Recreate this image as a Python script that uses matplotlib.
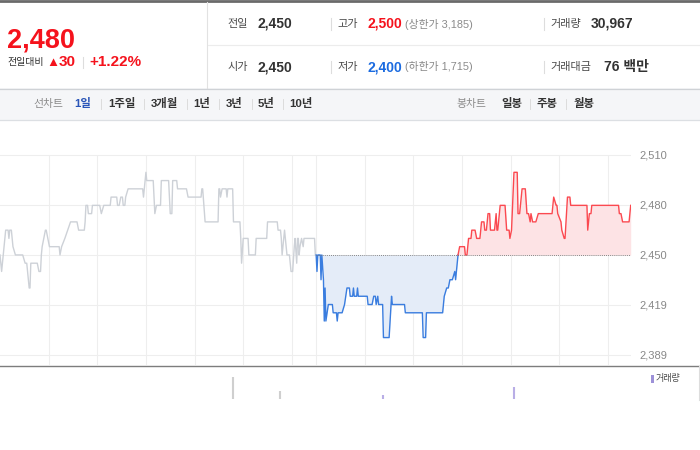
import matplotlib.pyplot as plt
from matplotlib.patches import Rectangle

plt.rcParams['font.family'] = ['Liberation Sans', 'Noto Sans CJK KR', 'DejaVu Sans']

# minutes on the chart: 0 = prev day 09:00, 390 = today 09:00, 780 = today 15:30
prev_min = [0, 2, 4, 7, 10, 11, 12, 14, 16, 19,
            28, 31, 33, 36, 37, 38, 46, 48, 50, 51,
            52, 56, 57, 61, 73, 74, 76, 80, 87, 95,
            97, 104, 105, 106, 108, 109, 113, 114, 123, 125,
            128, 136, 137, 144, 145, 147, 149, 151, 152, 154,
            155, 158, 176, 177, 180, 181, 189, 191, 193, 198,
            199, 208, 210, 212, 213, 218, 219, 230, 232, 248,
            249, 250, 253, 269, 270, 271, 272, 274, 279, 280,
            281, 287, 288, 296, 297, 298, 300, 306, 307, 315,
            316, 329, 330, 342, 343, 346, 347, 348, 351, 352,
            354, 357, 359, 361, 363, 364, 366, 367, 368, 369,
            370, 372, 374, 375, 388, 389]
prev_price = [2450, 2440, 2450, 2465, 2465, 2460, 2465, 2465, 2455, 2450,
              2450, 2445, 2445, 2430, 2430, 2445, 2445, 2440, 2440, 2450,
              2455, 2465, 2465, 2455, 2455, 2450, 2455, 2460, 2470, 2470,
              2465, 2465, 2470, 2480, 2480, 2475, 2475, 2480, 2480, 2475,
              2480, 2480, 2485, 2485, 2480, 2480, 2485, 2485, 2480, 2480,
              2485, 2490, 2490, 2485, 2500, 2495, 2495, 2475, 2480, 2480,
              2495, 2495, 2475, 2475, 2495, 2495, 2490, 2490, 2485, 2485,
              2490, 2490, 2470, 2470, 2490, 2490, 2485, 2490, 2490, 2485,
              2490, 2490, 2470, 2470, 2460, 2445, 2460, 2460, 2450, 2450,
              2460, 2460, 2470, 2470, 2465, 2465, 2460, 2450, 2465, 2460,
              2450, 2450, 2440, 2440, 2455, 2460, 2445, 2460, 2460, 2450,
              2455, 2460, 2455, 2460, 2460, 2450]

down_min = [390, 391, 392, 395, 396, 397, 399, 400, 401, 402,
            405, 410, 411, 415, 416, 417, 422, 425, 428, 431,
            432, 435, 436, 437, 440, 441, 442, 453, 454, 459,
            461, 463, 464, 466, 467, 472, 473, 480, 483, 484,
            499, 500, 521, 522, 525, 526, 546, 547, 548, 551,
            553, 555, 558, 561, 562, 565]
down_price = [2450, 2440, 2450, 2450, 2435, 2450, 2435, 2410, 2430, 2410,
              2420, 2420, 2415, 2415, 2410, 2415, 2415, 2420, 2430, 2430,
              2425, 2425, 2430, 2425, 2425, 2430, 2425, 2425, 2420, 2420,
              2425, 2425, 2420, 2425, 2420, 2420, 2400, 2400, 2425, 2420,
              2420, 2415, 2415, 2400, 2400, 2415, 2415, 2420, 2425, 2430,
              2430, 2435, 2435, 2440, 2435, 2450]

up_min = [565, 567, 573, 574, 576, 578, 581, 582, 586, 588,
          592, 594, 597, 598, 600, 602, 604, 605, 610, 612,
          613, 614, 617, 623, 625, 628, 629, 631, 634, 638,
          639, 641, 644, 648, 650, 652, 654, 655, 657, 661,
          664, 681, 682, 683, 686, 687, 688, 692, 693, 696,
          697, 700, 703, 704, 724, 725, 727, 729, 730, 763,
          764, 766, 768, 776, 778]
up_price = [2450, 2455, 2455, 2450, 2450, 2460, 2460, 2465, 2465, 2460,
            2460, 2470, 2470, 2465, 2465, 2475, 2475, 2465, 2465, 2475,
            2465, 2465, 2480, 2480, 2465, 2465, 2460, 2465, 2500, 2500,
            2475, 2475, 2490, 2490, 2475, 2475, 2470, 2475, 2470, 2470,
            2475, 2475, 2480, 2485, 2480, 2480, 2475, 2470, 2465, 2460,
            2460, 2485, 2485, 2480, 2480, 2465, 2475, 2475, 2480, 2480,
            2475, 2475, 2470, 2470, 2480]

vol_min = [288, 345, 472, 634]
vol = [5600, 2000, 1000, 3000]
vol_today = [False, False, True, True]

base = 2450
y_ticks = [2389.5, 2419.75, 2450, 2480.25, 2510.5]
y_labels = ['2,389', '2,419', '2,450', '2,480', '2,510']
hour_lines = [60, 120, 180, 240, 300, 360, 390, 450, 510, 570, 630, 690, 750]

RED = '#f5121c'
BLUE = '#1b6be0'
DARK = '#333333'
LABEL = '#4a4a4a'
GRAY = '#8a8a8a'

fig = plt.figure(figsize=(7, 4.5), dpi=100)

# pixel canvas for the header / frame
bg = fig.add_axes([0, 0, 1, 1])
bg.set_xlim(0, 700)
bg.set_ylim(450, 0)
bg.axis('off')

bg.plot([0, 700], [1, 1], color='#6a6a6a', lw=2)
bg.plot([207, 207], [2, 88], color='#e2e2e2', lw=0.8)
bg.plot([208, 700], [45, 45], color='#ececec', lw=0.8)
bg.add_patch(Rectangle((0, 88), 700, 32, fc='#f5f6f8', ec='none'))
bg.plot([0, 700], [88.5, 88.5], color='#cfd2d6', lw=0.9)
bg.plot([0, 700], [120, 120], color='#dcdfe3', lw=0.9)

# current price box
bg.text(7, 47, '2,480', fontsize=19.5, weight='bold', color=RED, va='baseline')
bg.text(7, 62, '전일대비', fontsize=7.2, color=DARK, va='center')
bg.text(46, 62.5, '▲', fontsize=9.5, color=RED, va='center')
bg.text(59, 62, '30', fontsize=11, weight='bold', color=RED, va='center')
bg.plot([83, 83], [57, 68], color='#dddddd', lw=0.8)
bg.text(89, 62, '+1.22%', fontsize=11, weight='bold', color=RED, va='center')

# quote table
for yy, lab, val in [(24, '전일', '2,450'), (67, '시가', '2,450')]:
    bg.text(227, yy, lab, fontsize=8, color=LABEL, va='center')
    bg.text(257, yy, val, fontsize=10, weight='bold', color=DARK, va='center')
for yy, lab, val, col, lim in [(24, '고가', '2,500', RED, '(상한가 3,185)'),
                               (67, '저가', '2,400', BLUE, '(하한가 1,715)')]:
    bg.plot([330.5, 330.5], [yy - 6, yy + 6], color='#dddddd', lw=0.8)
    bg.text(337, yy, lab, fontsize=8, color=LABEL, va='center')
    bg.text(367, yy, val, fontsize=10, weight='bold', color=col, va='center')
    bg.text(405, yy, lim, fontsize=7.8, color=GRAY, va='center')
for yy, lab, val, vx in [(24, '거래량', '30,967', 591), (67, '거래대금', '76 백만', 604)]:
    bg.plot([543.5, 543.5], [yy - 6, yy + 6], color='#dddddd', lw=0.8)
    bg.text(550, yy, lab, fontsize=8, color=LABEL, va='center')
    bg.text(vx, yy, val, fontsize=10, weight='bold', color=DARK, va='center')

# period / candle tabs
tab_y = 104
bg.text(33, tab_y, '선차트', fontsize=7.8, color=GRAY, va='center')
tabs = [(74, '1일'), (108, '1주일'), (151, '3개월'), (193, '1년'),
        (226, '3년'), (258, '5년'), (289, '10년')]
for i, (tx, t) in enumerate(tabs):
    bg.text(tx, tab_y, t, fontsize=8.2, weight='bold',
            color='#2a55b8' if i == 0 else DARK, va='center')
for sx in [101, 144, 187, 219, 252, 283]:
    bg.plot([sx, sx], [99, 109], color='#dcdcdc', lw=0.7)
bg.text(456, tab_y, '봉차트', fontsize=7.8, color=GRAY, va='center')
for tx, t in [(501, '일봉'), (537, '주봉'), (573, '월봉')]:
    bg.text(tx, tab_y, t, fontsize=8.2, weight='bold', color=DARK, va='center')
for sx in [529.5, 566]:
    bg.plot([sx, sx], [99, 109], color='#dcdcdc', lw=0.7)

# chart frame
bg.plot([0, 700], [365.5, 365.5], color='#7d7d7d', lw=1)
bg.plot([699, 699], [366, 400], color='#dddddd', lw=0.8)
bg.add_patch(Rectangle((651, 375), 2.5, 8, fc='#9d91d8', ec='none'))
bg.text(656, 379, '거래량', fontsize=6.5, color=LABEL, va='center')

# price chart
ax = fig.add_axes([0, 85 / 450, 630.7 / 700, 215 / 450])
ax.patch.set_visible(False)
ax.set_xlim(0, 778)
ax.set_ylim(2383.4, 2513.5)
for y in y_ticks:
    ax.axhline(y, color='#eeeeee', lw=0.8, zorder=0)
ax.vlines(hour_lines, 2383.4, y_ticks[-1], color='#eeeeee', lw=0.8, zorder=0)

ax.plot(prev_min, prev_price, color='#cdd1d7', lw=1.0)
ax.fill_between(down_min, down_price, base, color='#e4ecf8', lw=0)
ax.plot(down_min, down_price, color='#3a7ddf', lw=1.0)
ax.fill_between(up_min, up_price, base, color='#fde3e5', lw=0)
ax.plot(up_min, up_price, color='#fb4950', lw=1.0)
ax.hlines(base, 390, 778, colors='#666666', lw=0.6, linestyles=(0, (1, 1.5)))

ax.yaxis.tick_right()
ax.set_yticks(y_ticks, y_labels)
ax.tick_params(axis='y', length=0, pad=6, labelsize=8, labelcolor='#888888')
ax.set_xticks([])
for s in ax.spines.values():
    s.set_visible(False)

# volume strip
vax = fig.add_axes([0, 51 / 450, 630.7 / 700, 32 / 450])
vax.set_xlim(0, 778)
vax.set_ylim(0, 8000)
vax.vlines(vol_min, 0, vol, colors=['#b9aee6' if t else '#cfcfcf' for t in vol_today], lw=1.5)
vax.axis('off')

plt.savefig('out.png', dpi=100)
